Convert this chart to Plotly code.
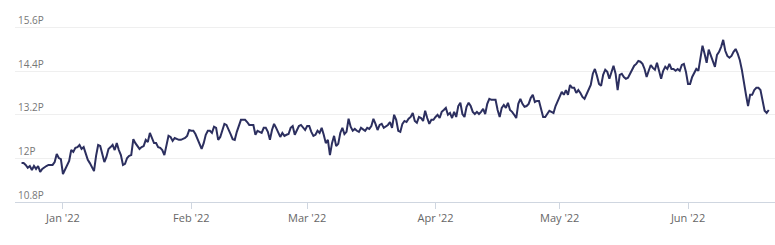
import pandas as pd
import plotly.graph_objects as go

start_date = "2021-12-22"
sample_freq = "12h"

values_p = [
    11.87, 11.87, 11.82, 11.74, 11.79, 11.68, 11.79, 11.71, 11.79, 11.63,
    11.71, 11.76, 11.79, 11.82, 11.82, 11.82, 11.90, 12.12, 12.01, 11.98,
    11.57, 11.68, 11.82, 11.93, 12.23, 12.18, 12.29, 12.31, 12.37, 12.26,
    12.31, 12.12, 11.96, 11.87, 11.74, 11.65, 12.07, 12.37, 12.34, 12.12,
    11.90, 12.04, 12.26, 12.31, 12.37, 12.23, 12.42, 12.23, 12.09, 11.82,
    11.85, 12.01, 12.07, 12.09, 12.53, 12.42, 12.34, 12.26, 12.31, 12.34,
    12.51, 12.45, 12.70, 12.56, 12.42, 12.42, 12.31, 12.29, 12.23, 12.09,
    12.40, 12.62, 12.59, 12.48, 12.56, 12.53, 12.51, 12.51, 12.53, 12.56,
    12.62, 12.78, 12.76, 12.76, 12.67, 12.53, 12.40, 12.26, 12.42, 12.65,
    12.76, 12.76, 12.70, 12.87, 12.84, 12.51, 12.59, 12.78, 12.95, 12.92,
    12.81, 12.67, 12.53, 12.51, 12.73, 12.87, 13.06, 13.06, 13.06, 13.00,
    12.92, 12.92, 12.92, 12.65, 12.76, 12.73, 12.70, 12.84, 12.84, 12.73,
    12.51, 12.78, 12.95, 12.84, 12.70, 12.59, 12.70, 12.62, 12.65, 12.67,
    12.84, 12.89, 12.65, 12.78, 12.89, 12.92, 12.84, 12.78, 12.89, 12.89,
    12.73, 12.62, 12.65, 12.76, 12.70, 12.84, 12.65, 12.42, 12.51, 12.09,
    12.42, 12.62, 12.34, 12.40, 12.70, 12.84, 12.67, 12.73, 13.09, 12.87,
    12.76, 12.81, 12.76, 12.73, 12.84, 12.81, 12.76, 12.84, 12.81, 12.89,
    13.09, 12.95, 12.78, 12.92, 12.95, 12.84, 12.89, 12.92, 13.00, 12.84,
    13.20, 13.06, 12.76, 12.73, 12.95, 13.03, 13.00, 13.09, 13.14, 13.25,
    13.03, 12.98, 13.14, 13.11, 13.03, 13.31, 13.11, 12.95, 13.06, 13.06,
    13.14, 13.20, 13.11, 13.28, 13.33, 13.39, 13.20, 13.25, 13.11, 13.28,
    13.14, 13.44, 13.53, 13.22, 13.14, 13.42, 13.53, 13.44, 13.28, 13.22,
    13.28, 13.22, 13.28, 13.36, 13.22, 13.50, 13.64, 13.61, 13.61, 13.61,
    13.33, 13.14, 13.39, 13.47, 13.39, 13.53, 13.33, 13.28, 13.20, 13.11,
    13.50, 13.64, 13.50, 13.42, 13.44, 13.50, 13.66, 13.75, 13.55, 13.58,
    13.58, 13.39, 13.14, 13.14, 13.22, 13.31, 13.28, 13.25, 13.44, 13.58,
    13.69, 13.83, 13.75, 13.88, 13.75, 14.02, 13.94, 13.94, 13.80, 13.88,
    13.80, 13.69, 13.64, 13.77, 13.88, 14.02, 14.33, 14.46, 14.27, 14.05,
    14.00, 14.30, 14.44, 14.38, 14.19, 14.38, 14.55, 14.33, 13.88, 14.30,
    14.33, 14.24, 14.19, 14.22, 14.33, 14.44, 14.55, 14.60, 14.68, 14.66,
    14.60, 14.46, 14.24, 14.41, 14.57, 14.49, 14.44, 14.63, 14.44, 14.19,
    14.41, 14.52, 14.46, 14.60, 14.46, 14.46, 14.41, 14.46, 14.41, 14.57,
    14.60, 14.38, 14.05, 14.05, 14.24, 14.35, 14.46, 14.41, 14.71, 15.10,
    14.88, 14.63, 14.99, 14.82, 14.71, 14.52, 14.85, 14.93, 15.07, 15.26,
    14.96, 14.82, 14.77, 14.82, 14.93, 15.01, 14.88, 14.71, 14.44, 14.05,
    13.75, 13.44, 13.75, 13.75, 13.88, 13.94, 13.94, 13.88, 13.58, 13.31,
    13.25, 13.33,
]

y_tick_vals = [10.8, 12.0, 13.2, 14.4, 15.6]
y_tick_text = ["10.8P", "12P", "13.2P", "14.4P", "15.6P"]
y_range = [10.8, 16.0]
x_range = ["2021-12-20 10:00", "2022-06-22 00:15"]

dates = pd.date_range(start_date, periods=len(values_p), freq=sample_freq)

fig = go.Figure(
    go.Scatter(
        x=dates,
        y=values_p,
        mode="lines",
        line=dict(color="#2c2f5f", width=2),
        hoverinfo="x+y",
    )
)

fig.update_layout(
    width=775,
    height=245,
    margin=dict(l=15, r=0, t=13, b=43),
    paper_bgcolor="white",
    plot_bgcolor="white",
    showlegend=False,
    font=dict(family="Open Sans, Noto Sans, sans-serif", size=11, color="#666666"),
)

fig.update_xaxes(
    range=x_range,
    tick0="2022-01-01",
    dtick="M1",
    tickformat="%b '%y",
    showgrid=False,
    zeroline=False,
    showline=True,
    linecolor="#cfd6e0",
    linewidth=1,
    ticks="outside",
    ticklen=6,
    tickcolor="#cfd6e0",
    tickfont=dict(size=11, color="#666666"),
)

fig.update_yaxes(
    range=y_range,
    tickvals=y_tick_vals,
    ticktext=y_tick_text,
    ticklabelposition="inside top",
    showgrid=True,
    gridcolor="#efefef",
    gridwidth=1,
    zeroline=False,
    showline=False,
    ticks="",
    tickfont=dict(size=10, color="#777777"),
)

fig.write_html("out.html")
